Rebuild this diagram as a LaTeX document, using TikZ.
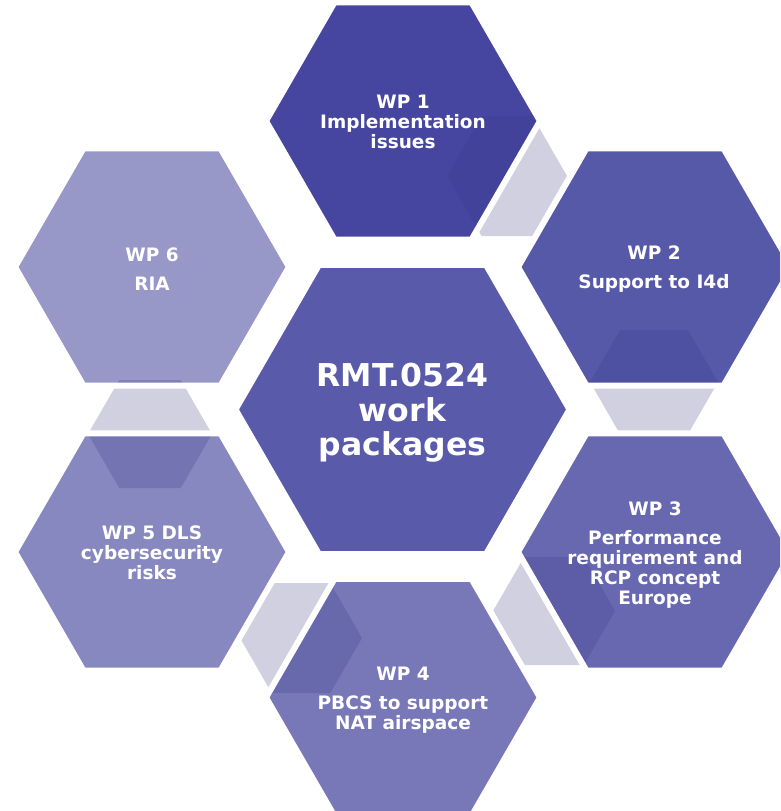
\documentclass[tikz,border=0pt]{standalone}
\usepackage{fontspec}
\setmainfont{DejaVu Sans}
\definecolor{cwpa}{HTML}{4646A0}
\definecolor{cwpb}{HTML}{5658A8}
\definecolor{cwpc}{HTML}{6868B0}
\definecolor{cwpd}{HTML}{7878B8}
\definecolor{cwpe}{HTML}{8888C0}
\definecolor{cwpf}{HTML}{9898C8}
\definecolor{cmid}{HTML}{5A5AAA}
\definecolor{clink}{HTML}{D0D0E0}
\definecolor{cshade}{HTML}{3A3A90}
\newcommand{\hexp}[5]{(#1+#3,#2) -- (#1+#4,#2-#5) -- (#1-#4,#2-#5) -- (#1-#3,#2) -- (#1-#4,#2+#5) -- (#1+#4,#2+#5) -- cycle}
\newcommand{\bighex}[2]{\hexp{#1}{#2}{137}{68.5}{118.6}}
\newcommand{\midhex}{\hexp{402.5}{409.5}{167}{83.5}{144.6}}
\newcommand{\alllinks}{%
  \hexp{507}{176}{60}{25.4}{60}
  \hexp{654}{382}{64}{34}{52}
  \hexp{554}{611}{61}{29.8}{54}
  \hexp{301}{638}{61}{29.3}{55}
  \hexp{150}{434}{62}{30.8}{54}}
\tikzset{
  lbl/.style={text=white, font=\fontsize{18.5}{20}\selectfont\bfseries, align=center, inner sep=0pt},
  biglbl/.style={text=white, font=\fontsize{31.5}{34.5}\selectfont\bfseries, align=center, inner sep=0pt},
  outline/.style={draw=white, line width=6pt, line join=miter},
  shade/.style={fill=cshade, fill opacity=0.25}
}
\begin{document}
\begin{tikzpicture}[x=1pt,y=-1pt]
\clip (0,0) rectangle (780,811);
\fill[white] (0,0) rectangle (780,811);
% connector hexagons (light)
\fill[clink] \alllinks;
% big hexagons
\fill[cwpa] \bighex{403}{121};
\fill[cwpb] \bighex{655}{267};
\fill[cwpc] \bighex{655}{552};
\fill[cwpd] \bighex{403}{697.5};
\fill[cwpe] \bighex{152}{552};
\fill[cwpf] \bighex{152}{267};
\fill[cmid] \midhex;
% darker parts of connectors seen inside hexagons
\begin{scope}\clip \bighex{403}{121}; \fill[shade] \alllinks; \end{scope}
\begin{scope}\clip \bighex{655}{267}; \fill[shade] \alllinks; \end{scope}
\begin{scope}\clip \bighex{655}{552}; \fill[shade] \alllinks; \end{scope}
\begin{scope}\clip \bighex{403}{697.5}; \fill[shade] \alllinks; \end{scope}
\begin{scope}\clip \bighex{152}{552}; \fill[shade] \alllinks; \end{scope}
\begin{scope}\clip \bighex{152}{267}; \fill[shade] \alllinks; \end{scope}
% white outlines
\draw[outline] \bighex{403}{121};
\draw[outline] \bighex{655}{267};
\draw[outline] \bighex{655}{552};
\draw[outline] \bighex{403}{697.5};
\draw[outline] \bighex{152}{552};
\draw[outline] \bighex{152}{267};
\draw[outline] \midhex;
% texts
\node[biglbl] (t0) at (402.5,413) {RMT.0524\\work\\packages};
\node[lbl] (t1) at (403,121.5) {WP 1\\Implementation\\issues};
\node[lbl] (t2) at (654,269.5) {WP 2\\[9pt]Support to I4d};
\node[lbl] (t3) at (655,555) {WP 3\\[9pt]Performance\\requirement and\\RCP concept\\Europe};
\node[lbl] (t4) at (403,700.5) {WP 4\\[9pt]PBCS to support\\NAT airspace};
\node[lbl] (t5) at (152,553) {WP 5 DLS\\cybersecurity\\risks};
\node[lbl] (t6) at (152,269.5) {WP 6\\[9pt]RIA};
\end{tikzpicture}
\end{document}
